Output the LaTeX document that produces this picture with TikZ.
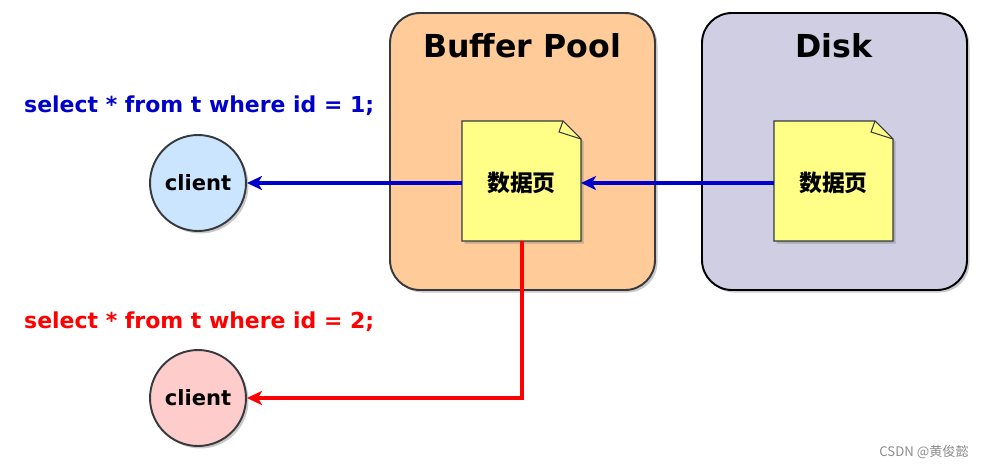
\documentclass[tikz,border=0pt]{standalone}
\usepackage{fontspec}
\setmainfont{DejaVu Sans}
\newfontfamily\cjk{Noto Sans CJK SC}
\usetikzlibrary{arrows.meta,shadows}

\definecolor{boxline}{HTML}{36393D}
\definecolor{poolfill}{HTML}{FFCC99}
\definecolor{diskfill}{HTML}{D0CEE2}
\definecolor{pagefill}{HTML}{FFFF88}
\definecolor{clientblue}{HTML}{CCE5FF}
\definecolor{clientred}{HTML}{FFCCCC}
\definecolor{readblue}{HTML}{0000CC}
\definecolor{readred}{HTML}{FF0000}

\tikzset{
  softshadow/.style={drop shadow={shadow xshift=0.05cm,shadow yshift=-0.05cm,opacity=0.35,fill=black!60}},
  area/.style={draw=boxline,line width=1.1pt,rounded corners=0.6cm,softshadow},
  pagesheet/.style={draw=boxline,line width=0.6pt,fill=pagefill,softshadow},
  pagetext/.style={font=\cjk\bfseries\fontsize{13}{15}\selectfont},
  client/.style={circle,draw=boxline,line width=1.1pt,minimum size=1.92cm,inner sep=0pt,
    font=\bfseries\fontsize{12}{14}\selectfont,softshadow},
  query/.style={anchor=west,font=\bfseries\fontsize{12.5}{15}\selectfont},
  flow/.style={line width=2pt,-{Stealth[length=0.3cm,width=0.28cm,inset=0.08cm]}}
}

\begin{document}
\begin{tikzpicture}[x=0.02cm,y=-0.02cm]
    \useasboundingbox (0,0) rectangle (989,470);
    % memory and disk
    \filldraw[area,fill=poolfill] (390,13) rectangle (655,290);
    \filldraw[area,fill=diskfill,draw=black] (702,13) rectangle (967,290);
    \node[font=\bfseries\fontsize{18}{22}\selectfont] (pooltitle) at (522,46) {Buffer Pool};
    \node[font=\bfseries\fontsize{18}{22}\selectfont] (disktitle) at (834,46) {Disk};
    % pages
    \filldraw[pagesheet] (462,121) -- (563,121) -- (581,139) -- (581,241) -- (462,241) -- cycle;
    \draw[boxline,line width=0.6pt] (563,121) -- (559,132) -- (581,139);
    \node[pagetext] (bufpage) at (521.5,183) {数据页};
    \filldraw[pagesheet] (774,121) -- (875,121) -- (893,139) -- (893,241) -- (774,241) -- cycle;
    \draw[boxline,line width=0.6pt] (875,121) -- (871,132) -- (893,139);
    \node[pagetext] (diskpage) at (833.5,183) {数据页};
    \coordinate (bufwest) at (462,183);
    \coordinate (bufeast) at (581,183);
    \coordinate (bufsouth) at (522,241);
    \coordinate (diskwest) at (774,183);
    % clients
    \node[client,fill=clientblue] (client1) at (198,183) {client};
    \node[client,fill=clientred] (client2) at (198,398) {client};
    \node[query,text=readblue] (query1) at (18,106) {select * from t where id = 1;};
    \node[query,text=readred] (query2) at (18,322) {select * from t where id = 2;};
    % reads
    \draw[flow,readblue] (diskwest) -- (bufeast);
    \draw[flow,readblue] (bufwest) -- (client1);
    \draw[flow,readred] (bufsouth) |- (client2);
    \node[anchor=east,text=black!45,font=\cjk\fontsize{7.5}{9}\selectfont] (mark) at (975,452) {CSDN @黄俊懿};
\end{tikzpicture}
\end{document}
